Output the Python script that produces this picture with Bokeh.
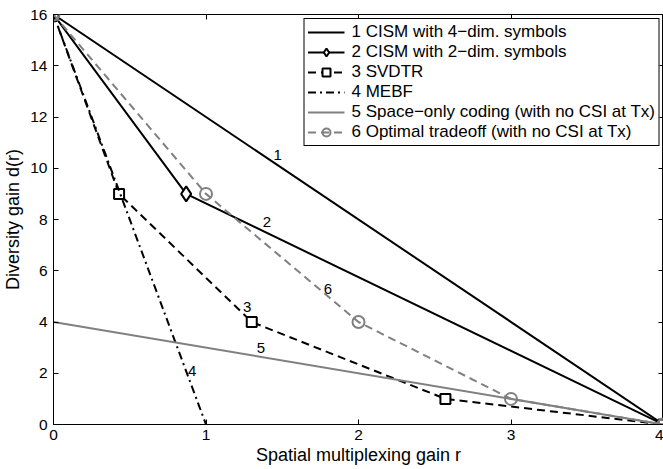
from bokeh.plotting import figure
from bokeh.models import Range1d, LinearAxis, FixedTicker, Legend, LegendItem
from bokeh.core.properties import value
from bokeh.embed import file_html
from bokeh.resources import INLINE

# ---- data ----
r1 = [0, 4]
d1 = [16, 0]
r2 = [0, 0.87, 4]
d2 = [16, 9, 0]
r3 = [0, 0.43, 1.3, 2.57, 4]
d3 = [16, 9, 4, 1, 0]
r4 = [0, 1]
d4 = [16, 0]
r5 = [0, 4]
d5 = [4, 0]
r6 = [0, 1, 2, 3, 4]
d6 = [16, 9, 4, 1, 0]

series_names = [
    "1 CISM with 4\u2212dim. symbols",
    "2 CISM with 2\u2212dim. symbols",
    "3 SVDTR",
    "4 MEBF",
    "5 Space\u2212only coding (with no CSI at Tx)",
    "6 Optimal tradeoff (with no CSI at Tx)",
]
curve_tags = ["1", "2", "3", "4", "5", "6"]
x_ticks = [0, 1, 2, 3, 4]
y_ticks = [0, 2, 4, 6, 8, 10, 12, 14, 16]

# annotation anchors for the curve numbers (data coords)
tag_r = [1.47, 1.40, 1.27, 0.91, 1.36, 1.80]
tag_d = [10.5, 7.9, 4.6, 2.1, 3.0, 5.3]

FONT = "Liberation Sans"
GRAY = "#808080"

p = figure(width=663, height=469, output_backend="svg", toolbar_location=None,
           x_range=Range1d(0, 4), y_range=Range1d(0, 16),
           min_border_left=53, min_border_right=0, min_border_top=14, min_border_bottom=45)
p.background_fill_color = "white"
p.border_fill_color = "white"
p.outline_line_color = "black"
p.outline_line_alpha = 1
p.outline_line_width = 1
p.xgrid.visible = False
p.ygrid.visible = False

for ax, ticks in ((p.xaxis[0], x_ticks), (p.yaxis[0], y_ticks)):
    ax.ticker = FixedTicker(ticks=ticks)
    ax.major_tick_in = 5
    ax.major_tick_out = 0
    ax.minor_tick_line_color = None
    ax.axis_line_color = "black"
    ax.major_tick_line_color = "black"
    ax.major_label_text_font = FONT
    ax.major_label_text_font_size = "15.5px"
    ax.major_label_text_color = "black"
    ax.axis_label_text_font = FONT
    ax.axis_label_text_font_size = "18px"
    ax.axis_label_text_font_style = "normal"
    ax.axis_label_text_color = "black"

p.xaxis.major_label_standoff = 5
p.xaxis.axis_label_standoff = 2
p.yaxis.major_label_standoff = 6
p.yaxis.axis_label_standoff = 4

p.xaxis.axis_label = "Spatial multiplexing gain r"
p.yaxis.axis_label = "Diversity gain d(r)"

# box-style ticks on top and right (labels suppressed)
for side, ticks in (("right", y_ticks), ("above", x_ticks)):
    ax = LinearAxis(ticker=FixedTicker(ticks=ticks), major_tick_in=5, major_tick_out=0,
                    minor_tick_line_color=None, axis_line_color=None,
                    major_tick_line_color="black",
                    major_label_text_font_size="1px", major_label_text_color=None,
                    major_label_standoff=0)
    p.add_layout(ax, side)

items = []
# 1
l1 = p.line(r1, d1, line_color="black", line_width=2)
items.append(LegendItem(label=series_names[0], renderers=[l1]))
# 2
l2 = p.line(r2, d2, line_color="black", line_width=2)
m2 = p.scatter(r2, d2, marker="diamond", size=15, fill_color="white", line_color="black", line_width=2)
items.append(LegendItem(label=series_names[1], renderers=[l2, m2]))
# 3
l3 = p.line(r3, d3, line_color="black", line_width=2, line_dash="8 5")
m3 = p.scatter(r3, d3, marker="square", size=10, fill_color="white", line_color="black", line_width=2)
items.append(LegendItem(label=series_names[2], renderers=[l3, m3]))
# 4
l4 = p.line(r4, d4, line_color="black", line_width=2, line_dash="8 4 2 4")
items.append(LegendItem(label=series_names[3], renderers=[l4]))
# 5
l5 = p.line(r5, d5, line_color=GRAY, line_width=2)
items.append(LegendItem(label=series_names[4], renderers=[l5]))
# 6
l6 = p.line(r6, d6, line_color=GRAY, line_width=2, line_dash="8 5")
m6 = p.scatter(r6, d6, marker="circle", size=12, fill_color="white", fill_alpha=0, line_color=GRAY, line_width=2)
items.append(LegendItem(label=series_names[5], renderers=[l6, m6]))

p.text(tag_r, tag_d, text=curve_tags, text_font=value(FONT), text_font_size="15px",
       text_color="black", text_align="center", text_baseline="middle")

legend = Legend(items=items, location="top_right")
legend.label_text_font = FONT
legend.label_text_font_size = "17px"
legend.label_text_color = "black"
legend.glyph_width = 37
legend.glyph_height = 20
legend.label_height = 20
legend.label_standoff = 7
legend.spacing = 0
legend.padding = 3
legend.margin = 4
legend.border_line_color = "black"
legend.border_line_width = 1
legend.border_line_alpha = 1
legend.background_fill_color = "white"
legend.background_fill_alpha = 1
p.add_layout(legend, "center")

open("out.html", "w").write(file_html(p, INLINE))
